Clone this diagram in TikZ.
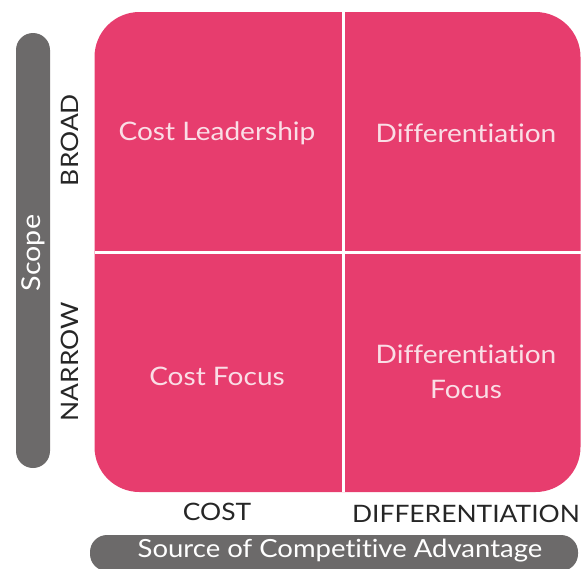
\documentclass[tikz,border=0pt]{standalone}
\usepackage{fontspec}
\setmainfont{Lato}[FakeStretch=1.1,Ligatures=NoCommon]
\definecolor{pinkc}{RGB}{231,61,110}
\definecolor{grayc}{RGB}{108,106,106}
\definecolor{paletxt}{RGB}{250,222,230}
\begin{document}
\begin{tikzpicture}[x=1pt,y=-1pt,
  cell/.style={text=paletxt,font=\fontsize{25.5}{35}\selectfont,align=center},
  axis/.style={text=black!85,font=\fontsize{24}{28}\selectfont},
  bar/.style={fill=grayc,rounded corners=17pt},
  divider/.style={white,line width=3pt}]
\useasboundingbox (0,0) rectangle (581,568);
\begin{scope}
\clip (0,0) rectangle (581,568);
\node[fill=pinkc,rounded corners=45pt,minimum width=486pt,minimum height=480pt,inner sep=0pt] (block) at (337.5,252) {};
\draw[divider] (343,12) -- (343,492);
\draw[divider] (95,252) -- (581,252);
\node[bar,minimum width=34pt,minimum height=435pt,inner sep=0pt] (vbar) at (33,250.5) {};
\node[bar,minimum width=488pt,minimum height=36pt,inner sep=0pt] (hbar) at (334,553) {};
\end{scope}
\node[cell] (cl) at (217,133) {Cost Leadership};
\node[cell] (df) at (466,133) {Differentiation};
\node[cell] (cf) at (217,376) {Cost Focus};
\node[cell] (dff) at (466,372) {Differentiation\\Focus};
\node[text=white,font=\fontsize{26}{30}\selectfont,rotate=90] (scope) at (33,253) {Scope};
\node[axis,rotate=90] (broad) at (70,140) {BROAD};
\node[axis,rotate=90] (narrow) at (70,362) {NARROW};
\node[axis] (cost) at (217,512) {COST};
\node[axis] (diff) at (466,514) {DIFFERENTIATION};
\node[text=white,font=\fontsize{25}{29}\selectfont] (src) at (340,551) {Source of Competitive Advantage};
\end{tikzpicture}
\end{document}
